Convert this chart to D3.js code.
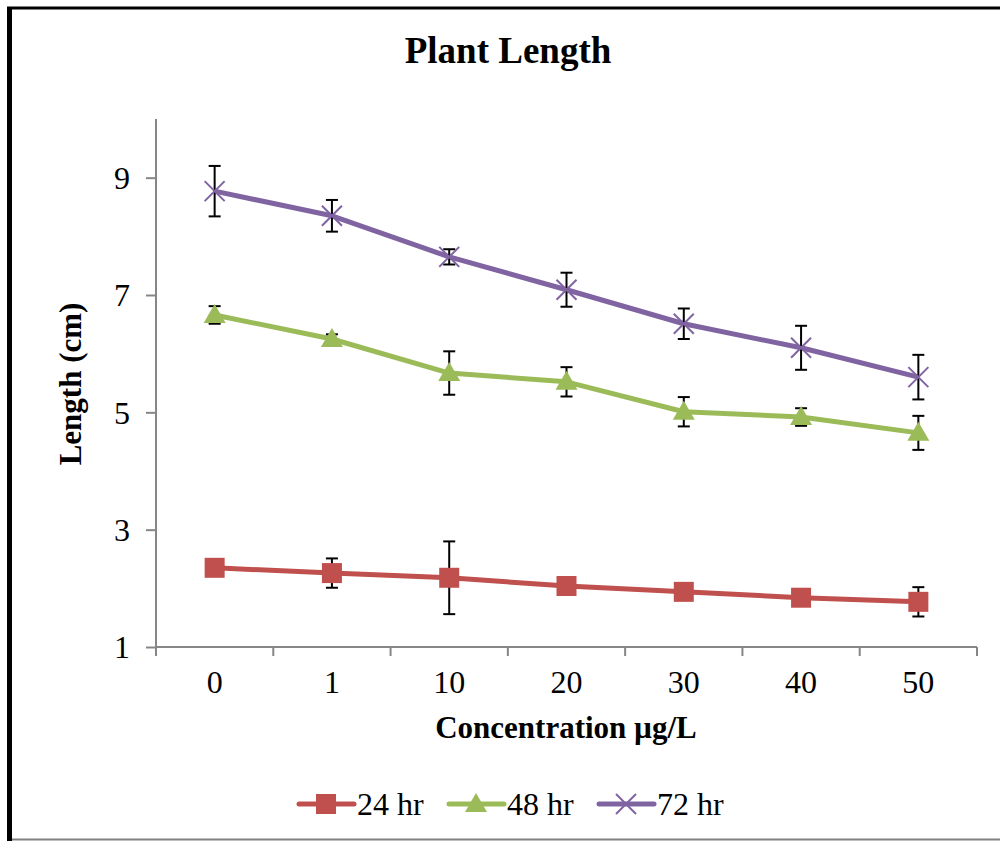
<!DOCTYPE html>
<html lang="en">
<head>
    <meta charset="UTF-8">
    <title>Plant Length</title>
    <script src="https://cdnjs.cloudflare.com/ajax/libs/d3/7.8.5/d3.min.js"></script>
    <style>
        * { margin: 0; padding: 0; box-sizing: border-box; }
        body { background: #ffffff; width: 1000px; height: 841px; overflow: hidden; }
        svg { display: block; font-family: "Liberation Serif", "Times New Roman", serif; }
        .axis path, .axis line { stroke: #868686; stroke-width: 2px; }
        .axis text { fill: #000; font-size: 32px; font-family: "Liberation Serif", serif; }
    </style>
</head>
<body>
<div id="chart"></div>
<script>
    // Data
    const categories = ["0", "1", "10", "20", "30", "40", "50"];
    const seriesNames = ["24 hr", "48 hr", "72 hr"];
    const values24 = [2.35, 2.26, 2.18, 2.04, 1.94, 1.84, 1.77];
    const errors24 = [0.08, 0.25, 0.62, 0.08, 0.08, 0.08, 0.25];
    const values48 = [6.66, 6.25, 5.67, 5.52, 5.01, 4.92, 4.65];
    const errors48 = [0.15, 0.08, 0.37, 0.25, 0.25, 0.15, 0.29];
    const values72 = [8.77, 8.35, 7.65, 7.09, 6.51, 6.10, 5.60];
    const errors72 = [0.43, 0.27, 0.13, 0.29, 0.26, 0.375, 0.38];
    const yTicks = [1, 3, 5, 7, 9];
    const colors = ["#C0504D", "#9BBB59", "#8064A2"];
    const shapes = ["square", "triangle", "cross"];

    const series = seriesNames.map((name, i) => ({
        name,
        color: colors[i],
        shape: shapes[i],
        values: [values24, values48, values72][i],
        errors: [errors24, errors48, errors72][i]
    }));

    const W = 1000, H = 841;
    const plot = {left: 156, right: 977, top: 119, bottom: 647};

    const svg = d3.select("#chart").append("svg")
        .attr("width", W)
        .attr("height", H);

    // Frame
    svg.append("rect").attr("x", 0).attr("y", 0).attr("width", W).attr("height", H).attr("fill", "#fff");
    svg.append("line").attr("x1", 7).attr("x2", W).attr("y1", 8).attr("y2", 8)
        .attr("stroke", "#000").attr("stroke-width", 3);
    svg.append("line").attr("x1", 9.5).attr("x2", 9.5).attr("y1", 7).attr("y2", H)
        .attr("stroke", "#000").attr("stroke-width", 5);
    svg.append("line").attr("x1", 12).attr("x2", W).attr("y1", 839.5).attr("y2", 839.5)
        .attr("stroke", "#808080").attr("stroke-width", 2);

    // Scales
    const x = d3.scaleBand().domain(categories).range([plot.left, plot.right]).padding(0);
    const cx = c => x(c) + x.bandwidth() / 2;
    const y = d3.scaleLinear().domain([1, 10]).range([plot.bottom, plot.top]);

    // Y axis
    const yAxis = svg.append("g")
        .attr("class", "axis")
        .attr("transform", `translate(${plot.left},0)`)
        .call(d3.axisLeft(y).tickValues(yTicks).tickSize(10).tickPadding(16).tickSizeOuter(0));
    yAxis.select(".domain").attr("d", `M0,${plot.top}V${plot.bottom}`);
    yAxis.selectAll("text").attr("dy", "0.34em");

    // X axis
    const xAxis = svg.append("g")
        .attr("class", "axis")
        .attr("transform", `translate(0,${plot.bottom})`)
        .call(d3.axisBottom(x).tickSize(0).tickPadding(23).tickSizeOuter(0));
    xAxis.select(".domain").attr("d", `M${plot.left},0H${plot.right}`);
    xAxis.selectAll(".tick line").remove();
    xAxis.selectAll("text").attr("dy", "0.71em");
    const edges = categories.map(c => x(c)).concat([plot.right]);
    xAxis.selectAll("line.edge").data(edges).enter().append("line")
        .attr("class", "edge")
        .attr("x1", d => d).attr("x2", d => d)
        .attr("y1", 0).attr("y2", 9);

    // Titles
    svg.append("text").attr("x", 508).attr("y", 63)
        .attr("text-anchor", "middle").attr("font-weight", "bold").attr("font-size", 37)
        .text("Plant Length");
    svg.append("text").attr("x", 566).attr("y", 738)
        .attr("text-anchor", "middle").attr("font-weight", "bold").attr("font-size", 31)
        .text("Concentration µg/L");
    svg.append("text").attr("transform", "translate(81,384) rotate(-90)")
        .attr("text-anchor", "middle").attr("font-weight", "bold").attr("font-size", 31)
        .text("Length (cm)");

    // Marker drawing
    function drawMarker(g, shape, color) {
        if (shape === "square") {
            g.append("rect").attr("x", -10).attr("y", -10).attr("width", 20).attr("height", 20)
                .attr("fill", color);
        } else if (shape === "triangle") {
            g.append("path").attr("d", "M0,-11L11,8L-11,8Z").attr("fill", color);
        } else {
            g.append("path").attr("d", "M-10,-10L10,10M-10,10L10,-10")
                .attr("stroke", color).attr("stroke-width", 2).attr("fill", "none");
        }
    }

    const line = d3.line()
        .x((d, i) => cx(categories[i]))
        .y(d => y(d));

    series.forEach(s => {
        const g = svg.append("g");
        g.append("path")
            .datum(s.values)
            .attr("d", line)
            .attr("fill", "none")
            .attr("stroke", s.color)
            .attr("stroke-width", 5)
            .attr("stroke-linejoin", "round");

        // error bars
        const eb = g.selectAll("g.err").data(s.values).enter().append("g").attr("class", "err");
        eb.append("line")
            .attr("x1", (d, i) => cx(categories[i])).attr("x2", (d, i) => cx(categories[i]))
            .attr("y1", (d, i) => y(d + s.errors[i])).attr("y2", (d, i) => y(d - s.errors[i]));
        eb.append("line")
            .attr("x1", (d, i) => cx(categories[i]) - 6).attr("x2", (d, i) => cx(categories[i]) + 6)
            .attr("y1", (d, i) => y(d + s.errors[i])).attr("y2", (d, i) => y(d + s.errors[i]));
        eb.append("line")
            .attr("x1", (d, i) => cx(categories[i]) - 6).attr("x2", (d, i) => cx(categories[i]) + 6)
            .attr("y1", (d, i) => y(d - s.errors[i])).attr("y2", (d, i) => y(d - s.errors[i]));
        eb.selectAll("line").attr("stroke", "#000").attr("stroke-width", 2);

        s.values.forEach((v, i) => {
            const m = g.append("g").attr("transform", `translate(${cx(categories[i])},${y(v)})`);
            drawMarker(m, s.shape, s.color);
        });
    });

    // Legend
    const legendX = [299, 449, 599];
    const legend = svg.append("g").attr("transform", "translate(0,804)");
    series.forEach((s, i) => {
        const item = legend.append("g").attr("transform", `translate(${legendX[i]},0)`);
        item.append("line").attr("x1", 0).attr("x2", 55).attr("y1", 0).attr("y2", 0)
            .attr("stroke", s.color).attr("stroke-width", 5).attr("stroke-linecap", "round");
        const m = item.append("g").attr("transform", "translate(27,0)");
        drawMarker(m, s.shape, s.color);
        item.append("text").attr("x", 58).attr("y", 11).attr("font-size", 32).text(s.name);
    });
</script>
</body>
</html>
